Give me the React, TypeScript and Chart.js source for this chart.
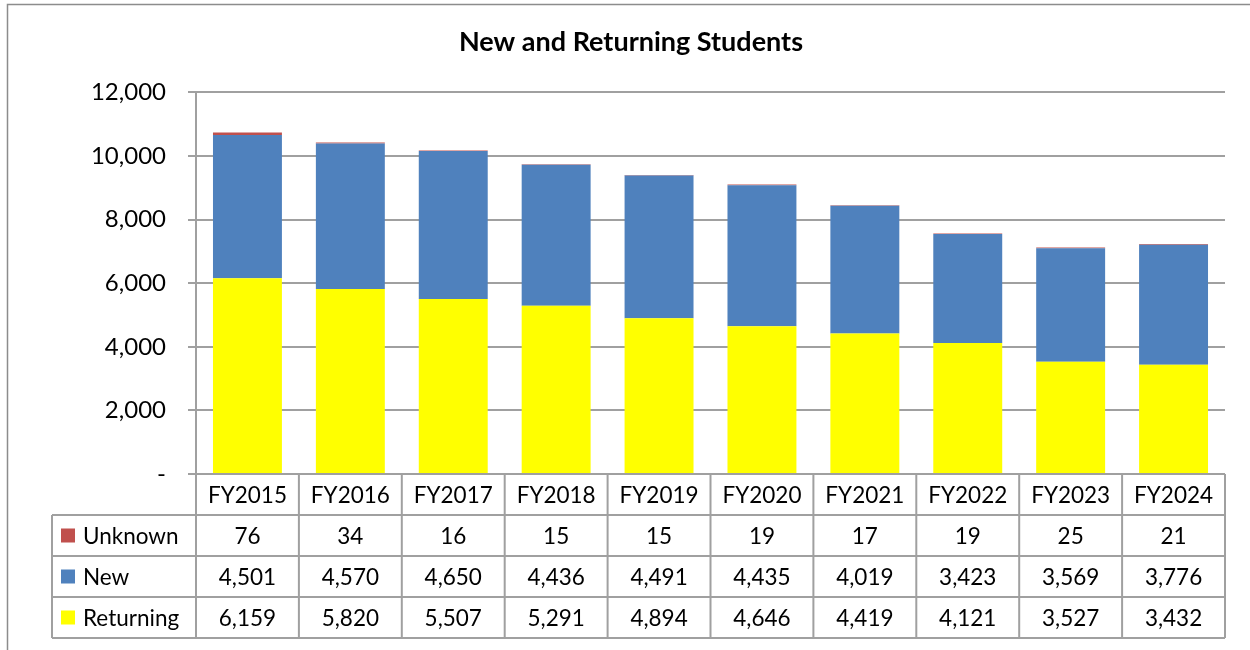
import React, { useEffect, useRef } from "react";
import { Chart, registerables } from "chart.js";

Chart.register(...registerables);

const categories = ["FY2015", "FY2016", "FY2017", "FY2018", "FY2019", "FY2020", "FY2021", "FY2022", "FY2023", "FY2024"];
const unknownValues = [76, 34, 16, 15, 15, 19, 17, 19, 25, 21];
const newValues = [4501, 4570, 4650, 4436, 4491, 4435, 4019, 3423, 3569, 3776];
const returningValues = [6159, 5820, 5507, 5291, 4894, 4646, 4419, 4121, 3527, 3432];
const yTicks = [0, 2000, 4000, 6000, 8000, 10000, 12000];

const FONT = "Lato";
const FONT_SIZE = 22.5;
const GRID = "#a0a0a0";

const tableRows = [
  { label: "Unknown", color: "#C0504D", values: unknownValues },
  { label: "New", color: "#4F81BD", values: newValues },
  { label: "Returning", color: "#FFFF00", values: returningValues },
];

const fmt = (v: number) => v.toLocaleString("en-US");

const tablePlugin = {
  id: "dataTable",
  afterDraw(chart: any) {
    const { ctx, chartArea, scales } = chart;
    const x = scales.x;
    const top = chartArea.bottom;
    const rowH = 41;
    const tableLeft = 52;
    const n = categories.length;
    const colW = (chartArea.right - chartArea.left) / n;
    ctx.save();
    ctx.strokeStyle = "#8c8c8c";
    ctx.lineWidth = 1.5;
    ctx.strokeRect(7.5, 4.5, 1260, 660);

    ctx.strokeStyle = GRID;
    ctx.lineWidth = 2;
    ctx.beginPath();
    ctx.moveTo(chartArea.left, top + rowH);
    ctx.lineTo(chartArea.right, top + rowH);
    for (let r = 1; r <= 4; r++) {
      const y = top + rowH * r;
      ctx.moveTo(tableLeft, y);
      ctx.lineTo(chartArea.right, y);
    }
    ctx.moveTo(tableLeft, top + rowH);
    ctx.lineTo(tableLeft, top + rowH * 4);
    ctx.moveTo(chartArea.left, top);
    ctx.lineTo(chartArea.left, top + rowH * 4);
    for (let i = 0; i < n; i++) {
      const xr = x.getPixelForValue(i) + colW / 2;
      ctx.moveTo(xr, top);
      ctx.lineTo(xr, top + rowH * 4);
    }
    ctx.stroke();

    ctx.fillStyle = "#000";
    ctx.font = `${FONT_SIZE}px ${FONT}`;
    ctx.textBaseline = "middle";
    ctx.textAlign = "center";
    for (let i = 0; i < n; i++) {
      const cx = x.getPixelForValue(i);
      ctx.fillText(categories[i], cx, top + rowH / 2 + 1);
      tableRows.forEach((row, r) => {
        ctx.fillText(fmt(row.values[i]), cx, top + rowH * (r + 1) + rowH / 2 + 1);
      });
    }
    ctx.textAlign = "left";
    tableRows.forEach((row, r) => {
      const cy = top + rowH * (r + 1) + rowH / 2;
      ctx.fillStyle = row.color;
      ctx.fillRect(61, cy - 7, 14, 14);
      ctx.fillStyle = "#000";
      ctx.fillText(row.label, 83, cy + 1);
    });
    ctx.restore();
  },
};

export default function App() {
  const ref = useRef<HTMLCanvasElement>(null);
  useEffect(() => {
    if (!ref.current) return;
    const chart = new Chart(ref.current, {
      type: "bar",
      data: {
        labels: categories,
        datasets: [
          { label: "Returning", data: returningValues, backgroundColor: "#FFFF00" },
          { label: "New", data: newValues, backgroundColor: "#4F81BD" },
          { label: "Unknown", data: unknownValues, backgroundColor: "#C0504D" },
        ],
      },
      options: {
        animation: false,
        responsive: false,
        maintainAspectRatio: false,
        layout: { padding: { left: 37, right: 25, top: 0, bottom: 176 } },
        datasets: { bar: { categoryPercentage: 1, barPercentage: 0.67 } },
        plugins: {
          legend: { display: false },
          tooltip: { enabled: false },
          title: {
            display: true,
            text: "New and Returning Students",
            color: "#000",
            font: { family: FONT, size: 27, weight: "bold" },
            padding: { top: 26, bottom: 34 },
          },
        },
        scales: {
          x: { stacked: true, display: false },
          y: {
            stacked: true,
            min: 0,
            max: 12000,
            afterBuildTicks: (scale: any) => {
              scale.ticks = yTicks.map((v) => ({ value: v }));
            },
            afterFit: (scale: any) => {
              scale.width = 159;
            },
            border: { display: true, color: GRID, width: 2 },
            grid: { color: GRID, lineWidth: 2, tickLength: 8 },
            ticks: {
              color: "#000",
              padding: 22,
              font: { family: FONT, size: 24 },
              callback: (v: any) => (Number(v) === 0 ? "-" : fmt(Number(v))),
            },
          },
        },
      },
      plugins: [tablePlugin],
    });
    return () => chart.destroy();
  }, []);
  return (
    <div style={{ position: "fixed", left: 0, top: 0, width: 1250, height: 650, background: "#fff" }}>
      <canvas ref={ref} width={1250} height={650} style={{ display: "block", width: 1250, height: 650 }} />
    </div>
  );
}
